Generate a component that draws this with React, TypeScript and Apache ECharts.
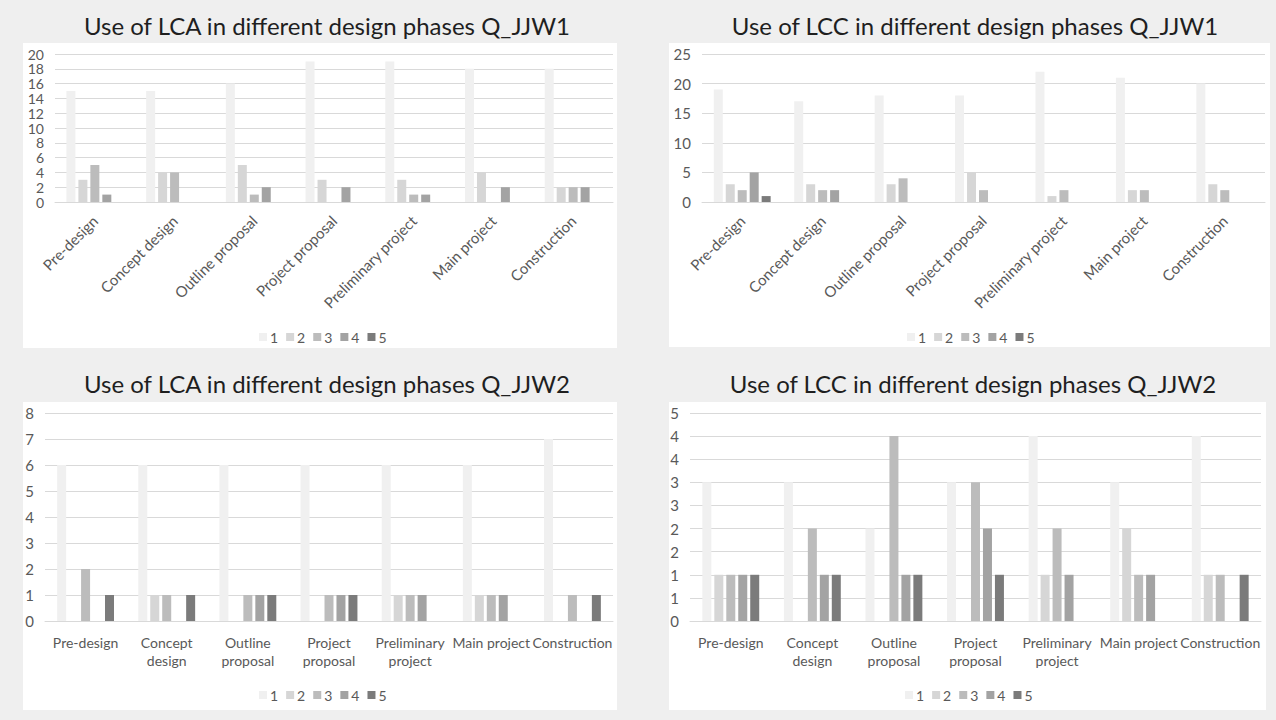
import React, { useEffect, useRef } from "react";
import * as echarts from "echarts";

const categories = [
  "Pre-design",
  "Concept design",
  "Outline proposal",
  "Project proposal",
  "Preliminary project",
  "Main project",
  "Construction",
];
const wrappedLabels = [
  "Pre-design",
  "Concept\ndesign",
  "Outline\nproposal",
  "Project\nproposal",
  "Preliminary\nproject",
  "Main project",
  "Construction",
];
const seriesNames = ["1", "2", "3", "4", "5"];
const seriesColors = ["#f0f0f0", "#d6d6d6", "#bcbcbc", "#a3a3a3", "#7b7b7b"];

const titles = [
  "Use of LCA in different design phases Q_JJW1",
  "Use of LCC in different design phases Q_JJW1",
  "Use of LCA in different design phases Q_JJW2",
  "Use of LCC in different design phases Q_JJW2",
];

// series 1..5 per chart
const lcaJJW1 = [
  [15, 15, 16, 19, 19, 18, 18],
  [3, 4, 5, 3, 3, 4, 2],
  [5, 4, 1, 0, 1, 0, 2],
  [1, 0, 2, 2, 1, 2, 2],
  [0, 0, 0, 0, 0, 0, 0],
];
const lccJJW1 = [
  [19, 17, 18, 18, 22, 21, 20],
  [3, 3, 3, 5, 1, 2, 3],
  [2, 2, 4, 2, 2, 2, 2],
  [5, 2, 0, 0, 0, 0, 0],
  [1, 0, 0, 0, 0, 0, 0],
];
const lcaJJW2 = [
  [6, 6, 6, 6, 6, 6, 7],
  [0, 1, 0, 0, 1, 1, 0],
  [2, 1, 1, 1, 1, 1, 1],
  [0, 0, 1, 1, 1, 1, 0],
  [1, 1, 1, 1, 0, 0, 1],
];
const lccJJW2 = [
  [3, 3, 2, 3, 4, 3, 4],
  [1, 0, 0, 0, 1, 2, 1],
  [1, 2, 4, 3, 2, 1, 1],
  [1, 1, 1, 2, 1, 1, 0],
  [1, 1, 1, 1, 0, 0, 1],
];

// y axis ranges
const yMax = [20, 25, 8, 4.5];
const yInterval = [2, 5, 1, 0.5];
const lccJJW2TickLabels = ["0", "1", "1", "2", "2", "3", "3", "4", "4", "5"];

const FONT = "Lato, 'Open Sans', sans-serif";
const LABEL = "#595959";
const GRIDLINE = "#d9d9d9";

export default function App() {
  const ref = useRef<HTMLDivElement>(null);

  useEffect(() => {
    if (!ref.current) return;
    const chart = echarts.init(ref.current, undefined, { renderer: "svg" });

    const datasets = [lcaJJW1, lccJJW1, lcaJJW2, lccJJW2];
    const panels = [
      { x: 23, y: 43, w: 594, h: 305 },
      { x: 669, y: 43, w: 601, h: 304 },
      { x: 23, y: 402, w: 594, h: 308 },
      { x: 669, y: 402, w: 597, h: 308 },
    ];
    const grids = [
      { left: 55, top: 54, width: 558, height: 148 },
      { left: 702, top: 54, width: 563, height: 148 },
      { left: 45, top: 413, width: 568, height: 208 },
      { left: 690, top: 413, width: 571, height: 208 },
    ];
    const titlePos = [
      { cx: 322, y: 8 },
      { cx: 970, y: 8 },
      { cx: 322, y: 366 },
      { cx: 968, y: 366 },
    ];
    const legendPos = [
      { left: 254, top: 325 },
      { left: 902, top: 325 },
      { left: 254, top: 683 },
      { left: 900, top: 683 },
    ];

    const series: any[] = [];
    datasets.forEach((ds, gi) => {
      ds.forEach((vals, si) => {
        series.push({
          type: "bar",
          name: seriesNames[si],
          xAxisIndex: gi,
          yAxisIndex: gi,
          data: vals,
          barWidth: 9,
          barGap: "33%",
          itemStyle: { color: seriesColors[si] },
        });
      });
    });

    const option: any = {
      animation: false,
      backgroundColor: "#efefef",
      color: seriesColors,
      textStyle: { fontFamily: FONT },
      graphic: panels.map((p) => ({
        type: "rect",
        z: -10,
        silent: true,
        shape: { x: p.x, y: p.y, width: p.w, height: p.h },
        style: { fill: "#ffffff" },
      })),
      title: titles.map((t, i) => ({
        text: t,
        left: titlePos[i].cx,
        top: titlePos[i].y,
        textAlign: "center",
        textStyle: {
          fontFamily: FONT,
          fontSize: 24,
          fontWeight: "normal",
          color: "#1f1f1f",
        },
      })),
      legend: legendPos.map((l) => ({
        data: seriesNames,
        left: l.left,
        top: l.top,
        icon: "rect",
        itemWidth: 8,
        itemHeight: 8,
        itemGap: 8,
        textStyle: { fontFamily: FONT, fontSize: 14, color: LABEL, padding: [0, 0, 0, -2] },
      })),
      grid: grids,
      xAxis: grids.map((_, i) => ({
        type: "category",
        gridIndex: i,
        data: categories,
        axisTick: { show: false },
        axisLine: { lineStyle: { color: GRIDLINE } },
        axisLabel:
          i < 2
            ? {
                interval: 0,
                rotate: 45,
                fontFamily: FONT,
                fontSize: 15,
                color: LABEL,
                margin: 16,
              }
            : {
                interval: 0,
                fontFamily: FONT,
                fontSize: 14,
                lineHeight: 18,
                color: LABEL,
                margin: 12,
                formatter: (_v: string, idx: number) => wrappedLabels[idx],
              },
      })),
      yAxis: grids.map((_, i) => ({
        type: "value",
        gridIndex: i,
        min: 0,
        max: yMax[i],
        interval: yInterval[i],
        axisLine: { show: false },
        axisTick: { show: false },
        splitLine: { lineStyle: { color: GRIDLINE } },
        axisLabel: {
          fontFamily: FONT,
          fontSize: i === 0 ? 14 : 15,
          lineHeight: i === 0 ? 13 : 16,
          color: LABEL,
          margin: 11,
          showMinLabel: true,
          showMaxLabel: true,
          formatter:
            i === 3
              ? (v: number) => lccJJW2TickLabels[Math.round(v / yInterval[3])]
              : (v: number) => String(v),
        },
      })),
      series,
    };

    chart.setOption(option);
    return () => chart.dispose();
  }, []);

  return (
    <div
      ref={ref}
      style={{ position: "absolute", left: 0, top: 0, width: 1276, height: 720 }}
    />
  );
}
